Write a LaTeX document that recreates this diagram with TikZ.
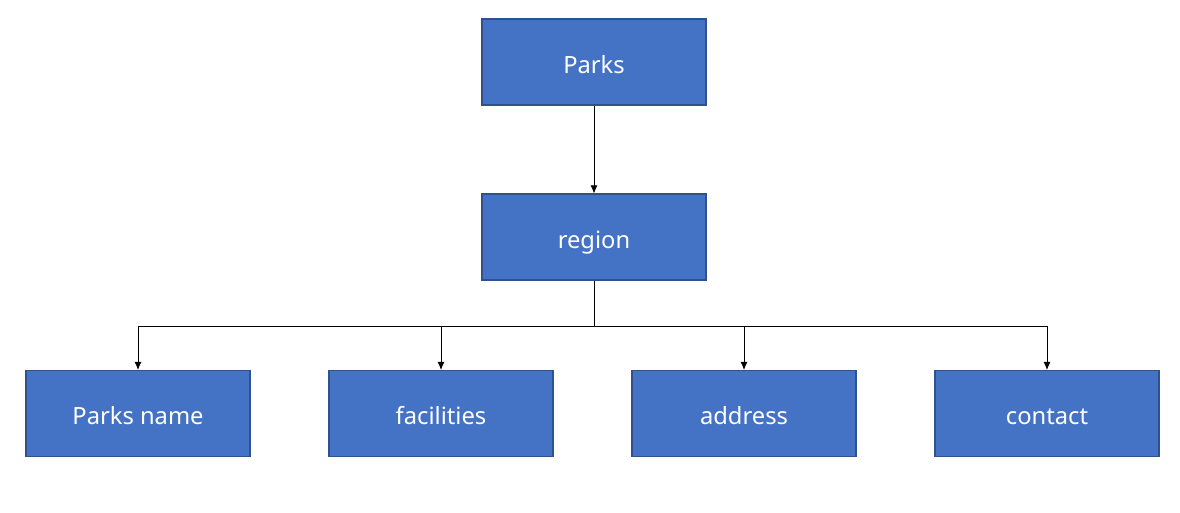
\documentclass[tikz,border=0pt]{standalone}
\usepackage{fontspec}
\setmainfont{Noto Sans}
\usepackage{tikz}
\usetikzlibrary{positioning,arrows.meta}
\definecolor{boxblue}{HTML}{4472C4}
\definecolor{boxedge}{HTML}{2F528F}
\tikzset{
  box/.style={draw=boxedge, fill=boxblue, line width=0.6pt, minimum width=4.48cm, minimum height=1.72cm, text=white, text height=13pt, text depth=0.4pt, font=\fontsize{13.5}{16}\selectfont},
  link/.style={line width=0.5pt, -{Latex[length=1.6mm,width=1.4mm]}}
}

\begin{document}
\begin{tikzpicture}
\useasboundingbox (0,0) rectangle (23.6,10.24);
\node[box] (parks) at (11.88,9.0) {Parks};
\node[box] (region) at (11.88,5.5) {region};
\node[box] (pname) at (2.76,1.97) {Parks name};
\node[box] (facil) at (8.82,1.97) {facilities};
\node[box] (addr) at (14.88,1.97) {address};
\node[box] (contact) at (20.94,1.97) {contact};
\coordinate (bar) at (11.88,3.72);
\draw[link] (parks) -- (region);
\draw[line width=0.5pt] (region.south) -- (bar);
\draw[link] (bar) -| (pname.north);
\draw[link] (bar) -| (facil.north);
\draw[link] (bar) -| (addr.north);
\draw[link] (bar) -| (contact.north);
\end{tikzpicture}
\end{document}
